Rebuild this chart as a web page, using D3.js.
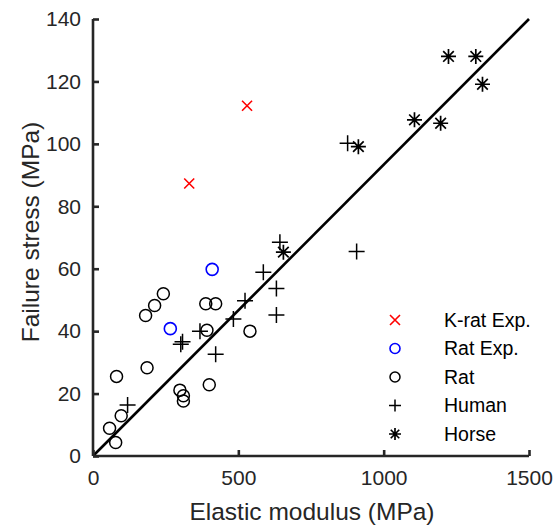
<!DOCTYPE html>
<html>
<head>
<meta charset="utf-8">
<script src="https://cdn.jsdelivr.net/npm/d3@7"></script>
<style>
  html, body { margin: 0; padding: 0; background: #fff; }
  svg { display: block; font-family: "Liberation Sans", Arial, sans-serif; }
</style>
</head>
<body>
<svg id="chart" width="556" height="528"></svg>
<script>
// ---- Data ----
const kratExp = [[331, 87.3], [530, 112.2]];
const ratExp = [[266, 40.8], [410, 59.8]];
const rat = [
  [57, 8.9], [78, 4.3], [97, 12.9], [81, 25.5], [186, 28.3], [181, 45],
  [212, 48.2], [242, 52], [299, 21.1], [311, 19.3], [311, 17.6],
  [388, 48.8], [422, 48.8], [392, 40.3], [400, 22.8], [540, 40]
];
const human = [
  [119, 16.3], [302, 35.8], [308, 36.6], [368, 40], [422, 32.6],
  [483, 43.9], [523, 49.7], [586, 58.9], [631, 53.7], [631, 45.2],
  [643, 68.5], [876, 100.2], [907, 65.5]
];
const horse = [
  [655, 65.3], [913, 99.1], [1106, 107.7], [1196, 106.6],
  [1223, 128], [1317, 128], [1340, 119.1]
];
const fitLine = [[0, 0], [1500, 140]];
const xTicks = [0, 500, 1000, 1500];
const yTicks = [0, 20, 40, 60, 80, 100, 120, 140];
const seriesNames = ["K-rat Exp.", "Rat Exp.", "Rat", "Human", "Horse"];

// ---- Layout ----
const svg = d3.select("#chart");
const x = d3.scaleLinear().domain([0, 1500]).range([93, 529]);
const y = d3.scaleLinear().domain([0, 140]).range([456, 19]);
const axisColor = "#262626";

// marker path generators (relative to center)
const markers = {
  x: s => `M${-s},${-s}L${s},${s}M${-s},${s}L${s},${-s}`,
  o: s => `M${s},0A${s},${s} 0 1,1 ${-s},0A${s},${s} 0 1,1 ${s},0Z`,
  plus: s => `M${-s},0L${s},0M0,${-s}L0,${s}`,
  star: s => {
    const d = s * 0.7071;
    return `M${-s},0L${s},0M0,${-s}L0,${s}M${-d},${-d}L${d},${d}M${-d},${d}L${d},${-d}`;
  }
};
const series = [
  { data: kratExp, shape: "x", size: 5, color: "#ff0000", width: 1.6 },
  { data: ratExp, shape: "o", size: 6, color: "#0000ff", width: 1.6 },
  { data: rat, shape: "o", size: 6, color: "#000000", width: 1.5 },
  { data: human, shape: "plus", size: 8, color: "#000000", width: 1.5 },
  { data: horse, shape: "star", size: 7.5, color: "#000000", width: 1.7 }
];

// fit line
svg.append("path")
  .attr("d", d3.line().x(d => x(d[0])).y(d => y(d[1]))(fitLine))
  .attr("fill", "none").attr("stroke", "#000").attr("stroke-width", 2.6);

// points
series.forEach(s => {
  svg.append("g").selectAll("path").data(s.data).join("path")
    .attr("transform", d => `translate(${x(d[0])},${y(d[1])})`)
    .attr("d", markers[s.shape](s.size))
    .attr("fill", "none").attr("stroke", s.color).attr("stroke-width", s.width);
});

// axes
const xAxis = d3.axisBottom(x).tickValues(xTicks).tickSize(-6).tickPadding(14).tickFormat(d3.format("d"));
const yAxis = d3.axisLeft(y).tickValues(yTicks).tickSize(-6).tickPadding(12).tickFormat(d3.format("d"));

const gx = svg.append("g").attr("transform", `translate(0,${y(0)})`).call(xAxis);
const gy = svg.append("g").attr("transform", `translate(${x(0)},0)`).call(yAxis);
[gx, gy].forEach(g => {
  g.select(".domain").attr("stroke", axisColor).attr("stroke-width", 2.6)
    .attr("d", g === gx ? `M${x(0)},0H${x(1500)}` : `M0,${y(0)}V${y(140)}`);
  g.selectAll(".tick line").attr("stroke", axisColor).attr("stroke-width", 2.6);
  g.selectAll(".tick text").attr("fill", "#262626").style("font-size", "21px")
    .style("font-family", '"Liberation Sans", Arial, sans-serif');
});

// axis titles
svg.append("text").attr("x", 312).attr("y", 520).attr("text-anchor", "middle")
  .attr("fill", "#262626").style("font-size", "24.5px").text("Elastic modulus (MPa)");
svg.append("text").attr("transform", "translate(39,232) rotate(-90)").attr("text-anchor", "middle")
  .attr("fill", "#262626").style("font-size", "24.5px").text("Failure stress (MPa)");

// legend
const leg = svg.append("g");
series.forEach((s, i) => {
  const ly = 320 + i * 28.5;
  leg.append("path").attr("transform", `translate(395,${ly})`)
    .attr("d", markers[s.shape](s.shape === "o" ? 5 : s.shape === "x" ? 5 : 6))
    .attr("fill", "none").attr("stroke", s.color).attr("stroke-width", s.width);
  leg.append("text").attr("x", 444).attr("y", ly).attr("dy", "0.35em")
    .attr("fill", "#000").style("font-size", "19.5px").text(seriesNames[i]);
});
</script>
</body>
</html>
